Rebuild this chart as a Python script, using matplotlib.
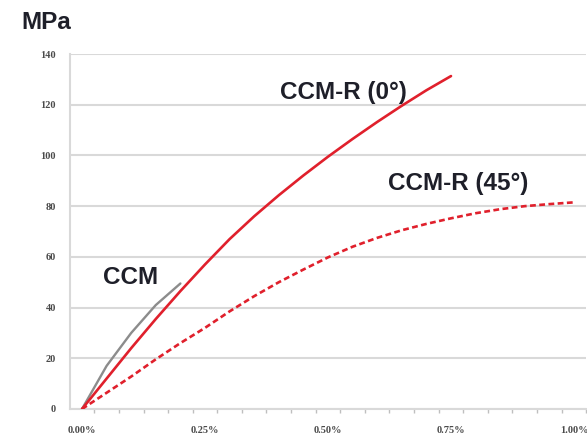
import matplotlib
matplotlib.use("Agg")
import matplotlib.pyplot as plt
import numpy as np

# Strain (%) and stress (MPa) for each material
strain_ccm = [0.00, 0.05, 0.10, 0.15, 0.20]
stress_ccm = [0.0, 17.0, 30.0, 41.0, 49.5]

strain_r0 = [0.00, 0.05, 0.10, 0.15, 0.20, 0.25, 0.30, 0.35, 0.40, 0.45,
             0.50, 0.55, 0.60, 0.65, 0.70, 0.75]
stress_r0 = [0.0, 12.0, 24.0, 35.5, 46.5, 57.0, 67.0, 76.0, 84.3, 92.1,
             99.5, 106.5, 113.2, 119.6, 125.7, 131.3]

strain_r45 = [0.00, 0.05, 0.10, 0.15, 0.20, 0.25, 0.30, 0.35, 0.40, 0.45,
              0.50, 0.55, 0.60, 0.65, 0.70, 0.75, 0.80, 0.85, 0.90, 0.95, 1.00]
stress_r45 = [0.0, 6.4, 12.8, 19.6, 26.0, 32.0, 38.5, 44.5, 50.0, 55.0,
              59.8, 64.0, 67.5, 70.5, 73.0, 75.2, 77.2, 78.8, 80.0, 80.8, 81.5]

x_tick_values = [0.00, 0.25, 0.50, 0.75, 1.00]
x_tick_labels = ["0.00%", "0.25%", "0.50%", "0.75%", "1.00%"]
y_tick_values = [0, 20, 40, 60, 80, 100, 120, 140]

RED = "#e0202c"
GRAY = "#8c8c8c"
TEXT = "#1e1f29"
GRID = "#d9d9d9"

fig = plt.figure(figsize=(5.87, 4.34), dpi=100)
ax = fig.add_axes([69.7 / 587, 25 / 434, 516.6 / 587, 355 / 434])

ax.plot(strain_ccm, stress_ccm, color=GRAY, lw=1.7, solid_capstyle="round", zorder=3)
ax.plot(strain_r0, stress_r0, color=RED, lw=1.9, solid_capstyle="round", zorder=4)
ax.plot(strain_r45, stress_r45, color=RED, lw=1.9, linestyle=(0, (2.2, 1.3)), zorder=4)

ax.set_xlim(-0.025, 1.025)
ax.set_ylim(0, 140)

# horizontal grid lines
ax.set_yticks(y_tick_values)
ax.yaxis.grid(True, color=GRID, lw=1.5)
ax.set_axisbelow(True)

# category style x axis: labels without marks, small marks between categories
ax.set_xticks(x_tick_values)
ax.set_xticklabels(x_tick_labels)
ax.tick_params(axis="x", length=0, pad=12)
ax.set_xticks(np.arange(-0.025, 1.03, 0.05)[1:], minor=True)
ax.tick_params(axis="x", which="minor", length=3, width=1, color="#bfbfbf")
ax.tick_params(axis="y", length=0, pad=10)

for lab in ax.get_xticklabels() + ax.get_yticklabels():
    lab.set_fontfamily("Liberation Serif")
    lab.set_fontsize(7.5)
    lab.set_fontweight("bold")
    lab.set_color("#4a4a4a")

for side in ("top", "right"):
    ax.spines[side].set_visible(False)
ax.spines["left"].set_color(GRID)
ax.spines["left"].set_linewidth(1.5)
ax.spines["bottom"].set_color(GRID)
ax.spines["bottom"].set_linewidth(1.5)

label_font = dict(family="Liberation Sans", size=17.5, weight="bold", color=TEXT)
ax.text(0.043, 52, "CCM", ha="left", va="center", **label_font)
ax.text(0.402, 125, "CCM-R (0°)", ha="left", va="center", **label_font)
ax.text(0.622, 89, "CCM-R (45°)", ha="left", va="center", **label_font)

fig.text(21 / 587, 1 - 29 / 434, "MPa", ha="left", va="baseline",
         family="Liberation Sans", size=17.5, weight="bold", color=TEXT)

fig.savefig("out.png", dpi=100)
